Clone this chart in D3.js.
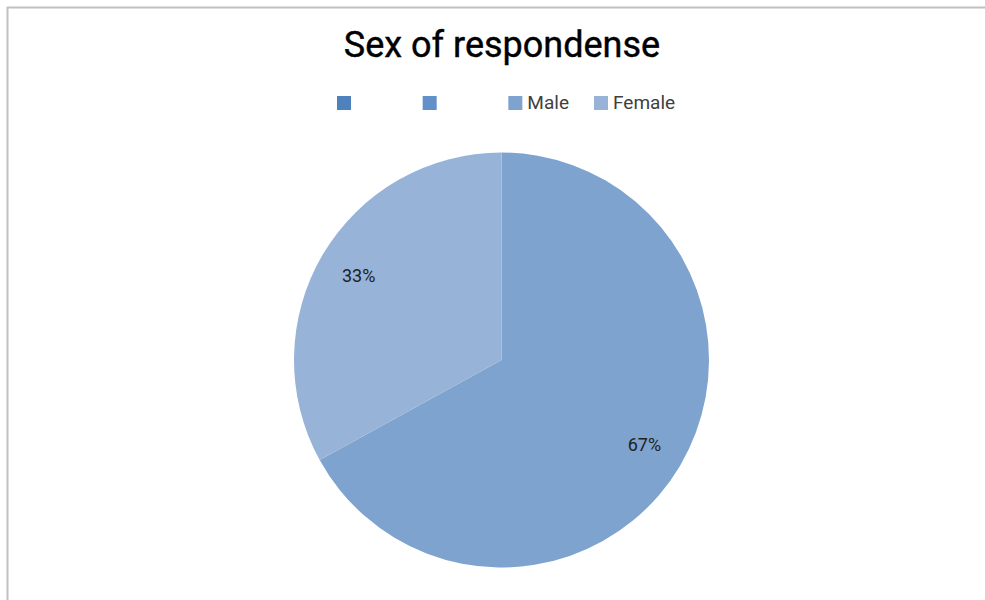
<!DOCTYPE html>
<html>
<head>
<meta charset="utf-8">
<script src="https://cdn.jsdelivr.net/npm/d3@7"></script>
<style>
body { margin: 0; background: #fff; }
svg { display: block; font-family: Roboto, "Liberation Sans", sans-serif; }
</style>
</head>
<body>
<div id="chart"></div>
<script>
// Data
const title = "Sex of respondense";
const legendLabels = ["", "", "Male", "Female"];
const legendColors = ["#4f81bd", "#6290c8", "#7ea3cf", "#97b3d8"];
const categories = ["Male", "Female"];
const values = [67, 33];
const sliceColors = ["#7ea3cf", "#97b3d8"];

const width = 985, height = 600;
const svg = d3.select("#chart").append("svg")
    .attr("width", width)
    .attr("height", height);

// chart frame (top and left edges visible)
svg.append("line").attr("x1", 7).attr("x2", width).attr("y1", 7.5).attr("y2", 7.5)
    .attr("stroke", "#c0c0c0").attr("stroke-width", 2);
svg.append("line").attr("x1", 7.5).attr("x2", 7.5).attr("y1", 7).attr("y2", height)
    .attr("stroke", "#c0c0c0").attr("stroke-width", 2);

svg.append("text")
    .attr("x", 502)
    .attr("y", 57)
    .attr("text-anchor", "middle")
    .attr("font-size", 36)
    .attr("fill", "#000")
    .attr("stroke", "#000")
    .attr("stroke-width", 0.4)
    .text(title);

// legend
const legendX = d3.scalePoint()
    .domain(d3.range(legendLabels.length))
    .range([337, 594]);

const legend = svg.selectAll(".legend")
    .data(legendLabels)
    .join("g")
    .attr("class", "legend")
    .attr("transform", (d, i) => `translate(${legendX(i)},96)`);

legend.append("rect")
    .attr("width", 14)
    .attr("height", 14)
    .attr("fill", (d, i) => legendColors[i]);

legend.append("text")
    .attr("x", 19)
    .attr("y", 13)
    .attr("font-size", 19)
    .attr("fill", "#404040")
    .text(d => d);

// pie
const cx = 501.5, cy = 360, r = 207.5;
const pie = d3.pie().sort(null).value(d => d);
const arcs = pie(values);
const arc = d3.arc().innerRadius(0).outerRadius(r);
const labelArc = d3.arc().innerRadius(r * 0.8).outerRadius(r * 0.8);
const total = d3.sum(values);

const g = svg.append("g").attr("transform", `translate(${cx},${cy})`);

g.selectAll("path")
    .data(arcs)
    .join("path")
    .attr("d", arc)
    .attr("fill", (d, i) => sliceColors[i]);

g.selectAll(".lbl")
    .data(arcs)
    .join("text")
    .attr("class", "lbl")
    .attr("transform", d => `translate(${labelArc.centroid(d)})`)
    .attr("text-anchor", "middle")
    .attr("dy", "0.35em")
    .attr("font-size", 18)
    .attr("fill", "#222")
    .text(d => Math.round(d.data / total * 100) + "%");
</script>
</body>
</html>
